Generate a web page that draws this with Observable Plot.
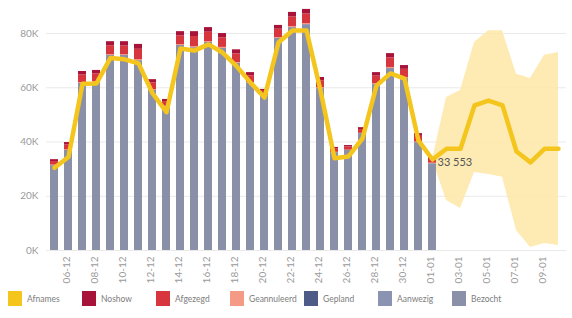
<!DOCTYPE html>
<html>
<head>
<meta charset="utf-8">
<script src="https://cdn.jsdelivr.net/npm/d3@7"></script>
<script src="https://cdn.jsdelivr.net/npm/@observablehq/plot@0.6"></script>
<style>
  html, body { margin: 0; padding: 0; background: #fff; }
  body { width: 572px; height: 318px; overflow: hidden; font-family: Lato, "Open Sans", sans-serif; }
  #legend { position: relative; height: 30px; }
  .item { position: absolute; top: 3px; display: flex; align-items: center; font-size: 8.5px; color: #7d7d7d; }
  .sw { width: 14px; height: 15px; margin-right: 5px; }
</style>
</head>
<body>
<div id="chart"></div>
<div id="legend"></div>
<script>
// ---- data ----
const dates = ["05-12","06-12","07-12","08-12","09-12","10-12","11-12","12-12","13-12","14-12",
  "15-12","16-12","17-12","18-12","19-12","20-12","21-12","22-12","23-12","24-12",
  "25-12","26-12","27-12","28-12","29-12","30-12","31-12","01-01",
  "02-01","03-01","04-01","05-01","06-01","07-01","08-01","09-01","10-01"];
const histDates = dates.slice(0, 28);
const forecastDates = ["01-01","02-01","03-01","04-01","05-01","06-01","07-01","08-01","09-01","10-01"];
const xTicks = ["06-12","08-12","10-12","12-12","14-12","16-12","18-12","20-12","22-12","24-12",
  "26-12","28-12","30-12","01-01","03-01","05-01","07-01","09-01"];
const yTicks = [0, 20000, 40000, 60000, 80000];

const bezocht = [31300,36900,61600,62000,71900,71900,70000,59000,53000,75600,
  74800,76700,74500,69000,61600,57100,78200,82200,83300,59700,
  36100,36900,43100,61200,67100,63400,39800,32000];
const geannuleerd = [200,200,300,300,300,300,400,300,200,300,
  400,300,400,300,300,200,300,400,400,300,
  100,100,100,300,400,300,200,200];
const afgezegd = [1300,1800,2800,2800,3300,3200,3800,2500,1700,3200,
  3700,3500,3500,3200,2500,1400,3100,3500,3500,2600,
  1200,1200,1400,2800,3500,3100,2100,1400];
const noshow = [700,900,1300,1300,1500,1600,1800,1200,800,1600,
  1800,1700,1600,1500,1200,700,1400,1700,1700,1200,
  600,500,700,1300,1600,1400,1000,700];

const afnames = [30500,34500,61500,61600,71000,70500,69000,58000,51000,74500,
  73700,76000,73000,68000,61900,56400,76700,81100,81100,59000,
  34000,34700,41300,60800,65300,63400,40500,33553,
  37500,37500,53500,55300,53500,36500,32500,37500,37500];
const bandUpper = [33553,56400,59000,76700,81000,81000,65000,63400,72000,73000];
const bandLower = [33553,18400,15500,28800,28000,27000,7400,1100,2600,1800];

const legendKeys = ["Afnames","Noshow","Afgezegd","Geannuleerd","Gepland","Aanwezig","Bezocht"];
const legendColors = ["#f4c51c","#a8133a","#d8363f","#f59a84","#4e5b86","#8a94b2","#8a90a8"];

// ---- tables ----
const stackSeries = [
  ["Bezocht", bezocht],
  ["Geannuleerd", geannuleerd],
  ["Afgezegd", afgezegd],
  ["Noshow", noshow]
];
const bars = [];
for (const [key, vals] of stackSeries) {
  histDates.forEach((d, i) => bars.push({date: d, key, value: vals[i]}));
}
const line = dates.map((d, i) => ({date: d, value: afnames[i]}));
const band = forecastDates.map((d, i) => ({date: d, lo: bandLower[i], hi: bandUpper[i]}));
const lastPoint = [{date: "01-01", value: 33553}];

const colorMap = Object.fromEntries(legendKeys.map((k, i) => [k, legendColors[i]]));
const fmt = v => String(v).replace(/\B(?=(\d{3})+(?!\d))/g, " ");

const chart = Plot.plot({
  width: 572,
  height: 288,
  marginLeft: 46,
  marginRight: 6,
  marginTop: 10,
  marginBottom: 38,
  style: {fontFamily: "Lato, 'Open Sans', sans-serif", background: "#fff"},
  x: {type: "band", domain: dates, paddingInner: 0.45, paddingOuter: 0.1, label: null},
  y: {domain: [0, 88500], label: null},
  color: {domain: legendKeys, range: legendColors},
  marks: [
    Plot.gridY(yTicks, {stroke: "#e9e9e9", strokeOpacity: 1}),
    Plot.areaY(band, {x: "date", y1: "lo", y2: "hi", fill: "#fde7a6", fillOpacity: 0.85}),
    Plot.barY(bars, {x: "date", y: "value", fill: d => colorMap[d.key], z: "key"}),
    Plot.lineY(line, {x: "date", y: "value", stroke: "#f4c51c", strokeWidth: 4.5, strokeLinejoin: "round"}),
    Plot.text(lastPoint, {x: "date", y: "value", text: d => fmt(d.value), textAnchor: "start", dx: 5, dy: 3, fontSize: 11, fill: "#555"}),
    Plot.axisY(yTicks, {tickSize: 0, tickPadding: 8, tickFormat: d => d / 1000 + "K", fontSize: 10, fill: "#9a9a9a"}),
    Plot.axisX(xTicks, {tickSize: 0, tickPadding: 6, tickRotate: -90, fontSize: 10, fill: "#9a9a9a", dx: -2})
  ]
});
document.getElementById("chart").appendChild(chart);

const legend = document.getElementById("legend");
legendKeys.forEach((k, i) => {
  const item = document.createElement("div");
  item.className = "item";
  item.style.left = (8 + i * 74) + "px";
  const sw = document.createElement("div");
  sw.className = "sw";
  sw.style.background = legendColors[i];
  const tx = document.createElement("span");
  tx.textContent = k;
  item.appendChild(sw);
  item.appendChild(tx);
  legend.appendChild(item);
});
</script>
</body>
</html>
